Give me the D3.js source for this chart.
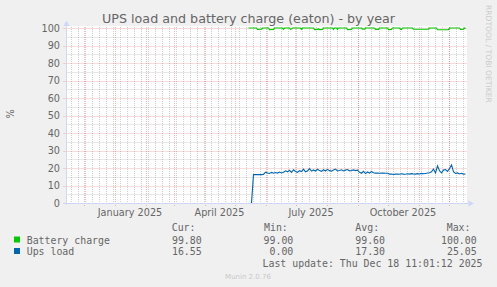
<!DOCTYPE html>
<html>
<head>
<meta charset="utf-8">
<script src="https://cdn.jsdelivr.net/npm/d3@7"></script>
<style>
body { margin: 0; background: #f0f0f0; }
svg { display: block; }
</style>
</head>
<body>
<svg id="vis" width="497" height="287"></svg>
<script>
// munin yearly graph: 400 days, one pixel per day
const rangeStart = "2024-11-14";
const rangeEnd = "2025-12-19";
const monthLabels = ["2025-01", "2025-04", "2025-07", "2025-10"];
const yTicks = [0, 10, 20, 30, 40, 50, 60, 70, 80, 90, 100];
const yMinorTicks = [5, 15, 25, 35, 45, 55, 65, 75, 85, 95];

const chargeDates = [
  "2025-05-15", "2025-05-23", "2025-05-24", "2025-05-28", "2025-05-29",
  "2025-06-04", "2025-06-05", "2025-06-09", "2025-06-10",
  "2025-06-18", "2025-06-19", "2025-06-20",
  "2025-06-25", "2025-06-26", "2025-06-27", "2025-06-28",
  "2025-07-06", "2025-07-07", "2025-07-08",
  "2025-07-19", "2025-07-20", "2025-07-23", "2025-07-24", "2025-07-25", "2025-07-28", "2025-07-29",
  "2025-08-07", "2025-08-08", "2025-08-09",
  "2025-08-11", "2025-08-12", "2025-08-13",
  "2025-08-21", "2025-08-22", "2025-08-26", "2025-08-27",
  "2025-09-05", "2025-09-06", "2025-09-08", "2025-09-09",
  "2025-09-18", "2025-09-19", "2025-09-22", "2025-09-23",
  "2025-10-01", "2025-10-02", "2025-10-05", "2025-10-06",
  "2025-10-13", "2025-10-14", "2025-10-15", "2025-10-16",
  "2025-10-26", "2025-10-27", "2025-11-11", "2025-11-12",
  "2025-11-19", "2025-11-20", "2025-12-01", "2025-12-02",
  "2025-12-12", "2025-12-13", "2025-12-16", "2025-12-17", "2025-12-18"
];
const chargeValues = [
  100, 100, 99.2, 99.3, 100,
  100, 99.1, 99.2, 100,
  100, 99.3, 100,
  100, 99.2, 99.4, 100,
  100, 99.3, 100,
  100, 99.1, 99.2, 99.6, 99.1, 99.2, 100,
  100, 99.3, 100,
  100, 99.2, 100,
  100, 99.1, 99.2, 100,
  100, 99.4, 99.4, 100,
  100, 99.2, 99.2, 100,
  100, 99.1, 99.2, 100,
  100, 99.2, 99.2, 100,
  100, 99.3, 99.3, 100,
  100, 99.0, 99.1, 100,
  100, 99.2, 99.3, 100, 99.8
];

// ups load, one sample every 2 days from loadStart
const loadStart = "2025-05-18";
const loadStepDays = 2;
const loadValues = [
  0,
  16.2, 16.2, 16.3, 16.2, 16.2, 16.3,
  17.6,
  17.1, 16.9, 17.5, 17.0, 17.4, 17.1, 17.7, 17.2,
  17.6, 18.4, 17.8, 18.7, 17.5, 19.0, 18.0, 17.5, 18.5, 18.0, 19.3, 17.8, 18.3,
  19.6, 18.2, 18.9, 18.3, 19.3, 18.5, 18.1, 19.0, 18.3, 19.2, 18.5, 18.2, 18.9,
  19.4, 18.3, 18.6, 19.0, 18.3, 18.8, 19.1, 18.4, 18.6, 18.9, 18.5, 18.8,
  17.5, 17.0, 18.1, 16.8, 17.7, 17.1, 18.0, 17.3,
  17.1, 17.1, 17.0, 17.1, 17.1, 17.0, 17.0,
  16.5, 16.6, 16.3, 16.5, 16.6, 16.4, 16.7, 16.5, 16.4, 16.7,
  16.5, 16.8, 16.6, 16.5, 16.8, 16.6, 16.9, 16.7, 16.9, 17.1,
  17.3, 17.8, 19.4, 17.2, 21.2,
  18.4, 17.2, 18.8, 19.1, 18.1, 19.6,
  21.8,
  17.9, 16.9, 17.2, 16.6, 17.0, 16.5, 16.55
];

const seriesNames = ["Battery charge", "Ups load"];
const seriesColors = ["#00cc00", "#0066b3"];
const statHeaders = ["Cur:", "Min:", "Avg:", "Max:"];
const statValues = [
  ["99.80", "99.00", "99.60", "100.00"],
  ["16.55", "0.00", "17.30", "25.05"]
];
const lastUpdate = "Last update: Thu Dec 18 11:01:12 2025";

const parse = d3.timeParse("%Y-%m-%d");
const svg = d3.select("#vis");
const plot = { left: 66.5, right: 466.5, top: 28, bottom: 203 };

const x = d3.scaleTime()
  .domain([parse(rangeStart), parse(rangeEnd)])
  .range([plot.left, plot.right]);
const y = d3.scaleLinear().domain([0, 100]).range([plot.bottom, plot.top]);

const px = v => Math.round(v) + 0.5;

// canvas
svg.append("rect")
  .attr("x", 67).attr("y", 26).attr("width", 400).attr("height", 177)
  .attr("fill", "#fff");

const grid = svg.append("g");
const minorCol = "rgba(143,143,143,0.42)";
const majorCol = "rgba(222,79,79,0.4)";

// vertical grid: weeks (minor), months (major)
const weeks = d3.timeMonday.range(x.domain()[0], x.domain()[1]);
const months = d3.timeMonth.range(x.domain()[0], x.domain()[1]);

grid.selectAll(".vminor").data(weeks).join("line")
  .attr("x1", d => px(x(d))).attr("x2", d => px(x(d)))
  .attr("y1", plot.top - 1).attr("y2", plot.bottom + 2)
  .attr("stroke", minorCol).attr("stroke-dasharray", "1,1");

grid.selectAll(".vmajor").data(months).join("line")
  .attr("x1", d => px(x(d))).attr("x2", d => px(x(d)))
  .attr("y1", plot.top - 1).attr("y2", plot.bottom + 3)
  .attr("stroke", majorCol).attr("stroke-dasharray", "1,1");

grid.selectAll(".hminor").data(yMinorTicks).join("line")
  .attr("x1", plot.left).attr("x2", plot.right)
  .attr("y1", d => px(y(d))).attr("y2", d => px(y(d)))
  .attr("stroke", minorCol).attr("stroke-dasharray", "1,1");

grid.selectAll(".hmajor").data(yTicks).join("line")
  .attr("x1", plot.left - 3).attr("x2", plot.right)
  .attr("y1", d => px(y(d))).attr("y2", d => px(y(d)))
  .attr("stroke", majorCol).attr("stroke-dasharray", "1,1");

// axes with arrows
const axisCol = "#cfd6f8";
svg.append("line")
  .attr("x1", plot.left).attr("x2", plot.left)
  .attr("y1", plot.bottom + 2).attr("y2", 24)
  .attr("stroke", axisCol);
svg.append("line")
  .attr("x1", plot.left - 2).attr("x2", plot.right + 3)
  .attr("y1", px(plot.bottom)).attr("y2", px(plot.bottom))
  .attr("stroke", axisCol);
svg.append("path")
  .attr("d", `M${plot.left - 3},26 L${plot.left},20.5 L${plot.left + 3},26 Z`)
  .attr("fill", axisCol);
svg.append("path")
  .attr("d", `M${plot.right + 2},${px(plot.bottom) - 3} L${plot.right + 7.5},${px(plot.bottom)} L${plot.right + 2},${px(plot.bottom) + 3} Z`)
  .attr("fill", axisCol);

// tick labels
svg.selectAll(".ylab").data(yTicks).join("text")
  .attr("x", 60).attr("y", d => y(d) + 3.5)
  .attr("text-anchor", "end")
  .attr("font-family", "DejaVu Sans").attr("font-size", 9.7)
  .attr("fill", "#666")
  .text(d => d);

const monthFmt = d3.timeFormat("%B %Y");
svg.selectAll(".xlab").data(monthLabels).join("text")
  .attr("x", d => {
    const m = d3.timeParse("%Y-%m")(d);
    const next = d3.timeMonth.offset(m, 1);
    return x(new Date((+m + +next) / 2));
  })
  .attr("y", 216)
  .attr("text-anchor", "middle")
  .attr("font-family", "DejaVu Sans").attr("font-size", 9.7)
  .attr("fill", "#666")
  .text(d => monthFmt(d3.timeParse("%Y-%m")(d)));

// title and labels
svg.append("text")
  .attr("x", 248.5).attr("y", 23)
  .attr("text-anchor", "middle")
  .attr("font-family", "DejaVu Sans").attr("font-size", 12.7)
  .attr("fill", "#666")
  .text("UPS load and battery charge (eaton) - by year");

svg.append("text")
  .attr("transform", "translate(14,114) rotate(-90)")
  .attr("text-anchor", "middle")
  .attr("font-family", "DejaVu Sans").attr("font-size", 9.7)
  .attr("fill", "#666")
  .text("%");

svg.append("text")
  .attr("transform", "translate(485.5,5) rotate(90)")
  .attr("font-family", "DejaVu Sans").attr("font-size", 7.6)
  .attr("fill", "#cccccc")
  .text("RRDTOOL / TOBI OETIKER");

// series
const line = d3.line().x(d => x(d.date)).y(d => y(d.value));
const chargeData = chargeDates.map((d, i) => ({ date: parse(d), value: chargeValues[i] }));
const loadData = loadValues.map((v, i) => ({
  date: d3.timeDay.offset(parse(loadStart), i * loadStepDays), value: v
}));

svg.append("path").datum(chargeData)
  .attr("d", line).attr("fill", "none")
  .attr("stroke", seriesColors[0]).attr("stroke-width", 1.2);
svg.append("path").datum(loadData)
  .attr("d", line).attr("fill", "none")
  .attr("stroke", seriesColors[1]).attr("stroke-width", 1.1);

// legend
const mono = "DejaVu Sans Mono";
const legendFs = 9.9;
const headerX = [171.7, 264, 355.3, 446.7];
const valueX = [201.7, 293.3, 385, 476.7];
const rowY = [243.5, 255];

svg.selectAll(".hdr").data(statHeaders).join("text")
  .attr("x", (d, i) => headerX[i]).attr("y", 231)
  .attr("font-family", mono).attr("font-size", legendFs)
  .attr("fill", "#666").text(d => d);

seriesNames.forEach((name, r) => {
  svg.append("rect")
    .attr("x", 14).attr("y", rowY[r] - 7).attr("width", 6).attr("height", 6)
    .attr("fill", seriesColors[r]);
  svg.append("text")
    .attr("x", 26.7).attr("y", rowY[r])
    .attr("font-family", mono).attr("font-size", legendFs)
    .attr("fill", "#666").text(name);
  svg.selectAll(".val" + r).data(statValues[r]).join("text")
    .attr("x", (d, i) => valueX[i]).attr("y", rowY[r])
    .attr("text-anchor", "end")
    .attr("font-family", mono).attr("font-size", legendFs)
    .attr("fill", "#666").text(d => d);
});

svg.append("text")
  .attr("x", 482.5).attr("y", 267)
  .attr("text-anchor", "end")
  .attr("font-family", mono).attr("font-size", legendFs)
  .attr("fill", "#666").text(lastUpdate);

svg.append("text")
  .attr("x", 248).attr("y", 279)
  .attr("text-anchor", "middle")
  .attr("font-family", "DejaVu Sans").attr("font-size", 7)
  .attr("fill", "#c8c8c8").text("Munin 2.0.76");
</script>
</body>
</html>
